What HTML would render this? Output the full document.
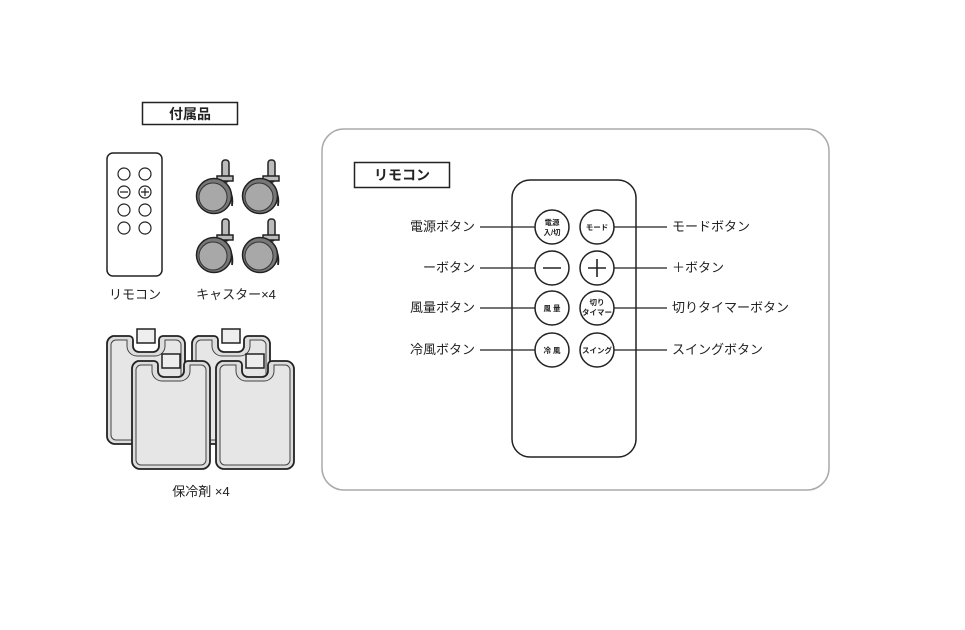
<!DOCTYPE html>
<html><head><meta charset="utf-8"><style>
body{margin:0;background:#fff;}
text{font-family:"Liberation Sans","Noto Sans CJK JP",sans-serif;fill:#222;}
</style></head><body>
<svg width="965" height="625" viewBox="0 0 965 625" xmlns="http://www.w3.org/2000/svg">
<defs>
<g id="caster">
 <rect x="8" y="-36" width="7" height="22" rx="3" fill="#bbb" stroke="#222" stroke-width="1.5"/>
 <rect x="3" y="-20" width="16" height="5" fill="#bbb" stroke="#222" stroke-width="1.5"/>
 <path d="M4,-16 C14,-12 20,-2 18,10" fill="#aaa" stroke="#222" stroke-width="1.8"/>
 <circle cx="0" cy="0" r="17.5" fill="#777" stroke="#222" stroke-width="1.5"/>
 <circle cx="-1" cy="1" r="14" fill="#a8a8a8" stroke="#333" stroke-width="1"/>
</g>
<g id="pack">
 <rect x="30" y="-7" width="18" height="14" fill="#eee" stroke="#222" stroke-width="1.5"/>
 <path d="M6,0 H22 a4,4 0 0 1 4,4 v6 a6,6 0 0 0 6,6 H46 a6,6 0 0 0 6,-6 v-6 a4,4 0 0 1 4,-4 H70 a8,8 0 0 1 8,8 V100 a8,8 0 0 1 -8,8 H8 a8,8 0 0 1 -8,-8 V8 a8,8 0 0 1 6,-8z" fill="#ddd" stroke="#222" stroke-width="1.8"/>
 <path d="M9,4 H20 v6 a10,10 0 0 0 10,10 H48 a10,10 0 0 0 10,-10 v-6 H69 a5,5 0 0 1 5,5 V99 a5,5 0 0 1 -5,5 H9 a5,5 0 0 1 -5,-5 V9 a5,5 0 0 1 5,-5z" fill="#e6e6e6" stroke="#444" stroke-width="1"/>
</g>
</defs>
<rect x="142.5" y="102.5" width="95" height="22" fill="#fff" stroke="#222" stroke-width="1.5"/>
<text x="190" y="119" font-size="14" font-weight="bold" text-anchor="middle">付属品</text>
<rect x="107" y="153" width="55" height="123" rx="6" fill="#fff" stroke="#222" stroke-width="1.5"/>
<g fill="#fff" stroke="#222" stroke-width="1.2">
<circle cx="124" cy="174" r="6"/><circle cx="145" cy="174" r="6"/>
<circle cx="124" cy="192" r="6"/><circle cx="145" cy="192" r="6"/>
<circle cx="124" cy="210" r="6"/><circle cx="145" cy="210" r="6"/>
<circle cx="124" cy="228" r="6"/><circle cx="145" cy="228" r="6"/>
</g>
<path d="M120,192 h8 M141,192 h8 M145,188 v8" stroke="#222" stroke-width="1.2"/>
<text x="135" y="299" font-size="13" text-anchor="middle">リモコン</text>
<use href="#caster" x="214" y="196"/><use href="#caster" x="260" y="196"/>
<use href="#caster" x="214" y="255"/><use href="#caster" x="260" y="255"/>
<text x="236" y="299" font-size="13" text-anchor="middle">キャスター×4</text>
<use href="#pack" x="107" y="336"/><use href="#pack" x="192" y="336"/>
<use href="#pack" x="132" y="361"/><use href="#pack" x="216" y="361"/>
<text x="201" y="496" font-size="13" text-anchor="middle">保冷剤 ×4</text>
<rect x="322" y="129" width="507" height="361" rx="22" fill="#fff" stroke="#aaa" stroke-width="1.5"/>
<rect x="354.5" y="162.5" width="95" height="25" fill="#fff" stroke="#222" stroke-width="1.5"/>
<text x="402" y="180" font-size="14" font-weight="bold" text-anchor="middle">リモコン</text>
<rect x="512" y="180" width="124" height="277" rx="18" fill="#fff" stroke="#222" stroke-width="1.5"/>
<g stroke="#222" stroke-width="1.2">
<path d="M480,227 H535 M480,268 H535 M480,308 H535 M480,350 H535 M614,227 H667 M614,268 H667 M614,308 H667 M614,350 H667"/>
</g>
<g fill="#fff" stroke="#222" stroke-width="1.5">
<circle cx="552" cy="227" r="17"/><circle cx="597" cy="227" r="17"/>
<circle cx="552" cy="268" r="17"/><circle cx="597" cy="268" r="17"/>
<circle cx="552" cy="308" r="17"/><circle cx="597" cy="308" r="17"/>
<circle cx="552" cy="350" r="17"/><circle cx="597" cy="350" r="17"/>
</g>
<path d="M543,268 h18 M588,268 h18 M597,259 v18" stroke="#222" stroke-width="1.6"/>
<g font-size="7.5" text-anchor="middle" font-weight="bold">
<text x="552" y="225">電源</text><text x="552" y="235">入/切</text>
<text x="597" y="230">モード</text>
<text x="552" y="311">風 量</text>
<text x="597" y="305">切り</text><text x="597" y="315">タイマー</text>
<text x="552" y="353">冷 風</text>
<text x="597" y="353">スイング</text>
</g>
<g font-size="13" text-anchor="end">
<text x="475" y="231">電源ボタン</text>
<text x="475" y="272">ーボタン</text>
<text x="475" y="312">風量ボタン</text>
<text x="475" y="354">冷風ボタン</text>
</g>
<g font-size="13">
<text x="672" y="231">モードボタン</text>
<text x="672" y="272">＋ボタン</text>
<text x="672" y="312">切りタイマーボタン</text>
<text x="672" y="354">スイングボタン</text>
</g>
</svg>
</body></html>
